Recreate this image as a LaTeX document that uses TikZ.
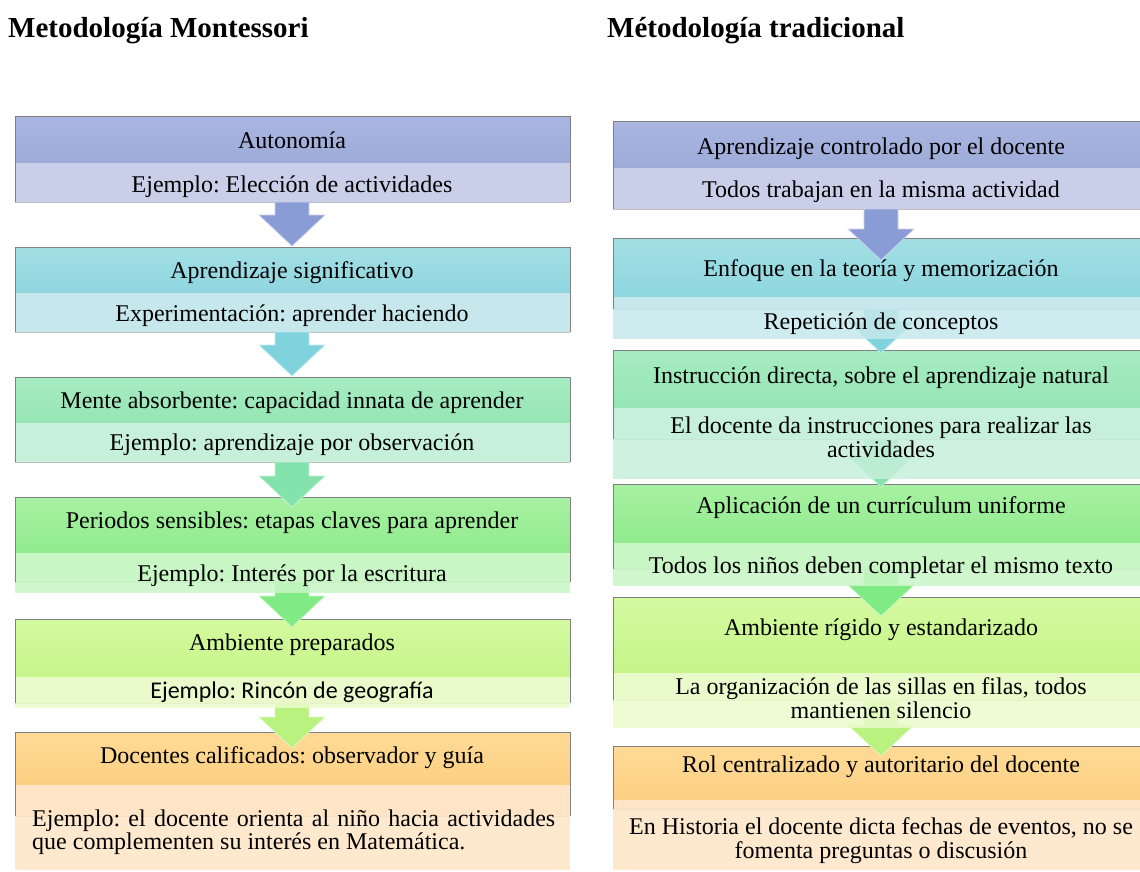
\documentclass[tikz,border=0pt]{standalone}
\usepackage{fontspec}
\setmainfont{Liberation Serif}
\newfontfamily\calibrifont{Carlito}
\frenchspacing
% stage colours: header top (hT), header bottom (hB), sub (s), arrow (a)
\definecolor{hTa}{HTML}{AAB6E1}\definecolor{hBa}{HTML}{9DABD8}\definecolor{sa}{HTML}{CACFE9}\definecolor{aa}{HTML}{8A9CD5}
\definecolor{hTb}{HTML}{A2DFE5}\definecolor{hBb}{HTML}{8FD6DF}\definecolor{sb}{HTML}{C6E8EC}\definecolor{ab}{HTML}{80D2DD}
\definecolor{hTc}{HTML}{A6ECC2}\definecolor{hBc}{HTML}{96E5B4}\definecolor{sc}{HTML}{C6F0D9}\definecolor{ac}{HTML}{84E2AC}
\definecolor{hTd}{HTML}{A6F1A2}\definecolor{hBd}{HTML}{92EB8E}\definecolor{sd}{HTML}{C9F6C5}\definecolor{ad}{HTML}{80EA84}
\definecolor{hTe}{HTML}{D4FA9F}\definecolor{hBe}{HTML}{C6F58A}\definecolor{se}{HTML}{EAFBCB}\definecolor{ae}{HTML}{B9F27F}
\definecolor{hTf}{HTML}{FFDA95}\definecolor{hBf}{HTML}{FDD083}\definecolor{sf}{HTML}{FFE5C6}\definecolor{af}{HTML}{FDD083}
\tikzset{
  txt/.style={font=\fontsize{24}{24}\selectfont, anchor=base, inner sep=0pt, align=center},
  ttl/.style={font=\fontsize{29}{30}\selectfont\bfseries, anchor=base west, inner sep=0pt},
  boxline/.style={draw=black!50, line width=0.8pt},
}
% x1 x2 ytop yhead yout colourkey
\newcommand\stagefill[6]{%
  \shade[top color=hT#6, bottom color=hB#6] (#1,#3) rectangle (#2,#4);
  \fill[s#6] (#1,#4) rectangle (#2,#5);
  \draw[black!25, line width=0.6pt] (#1,#5) -- (#2,#5);
  \draw[boxline] (#1,#3) -- (#2,#3);}
% x1 x2 yhead yband colourkey
\newcommand\stageband[5]{%
  \fill[s#5, opacity=0.85] (#1,#3) rectangle (#2,#4);}
% x1 x2 ytop yout
\newcommand\stagesides[4]{%
  \draw[boxline] (#1,#3) -- (#1,#4);
  \draw[boxline] (#2,#3) -- (#2,#4);}
% cx ytop ytip colour
\newcommand\blockarr[4]{%
  \filldraw[fill=#4, draw=white!55!#4, line width=0.7pt]
    (#1-17,#2) -- (#1+17,#2) -- (#1+17,#3-31) -- (#1+33,#3-31) -- (#1,#3)
    -- (#1-33,#3-31) -- (#1-17,#3-31) -- cycle;}
\begin{document}
\begin{tikzpicture}[x=1pt,y=-1pt]
\useasboundingbox (0,0) rectangle (1140,871);
\clip (0,0) rectangle (1140,871);
% ---------- titles
\node[ttl] (t1) at (8,37) {Metodología Montessori};
\node[ttl] (t2) at (607,37) {Métodología tradicional};
% ---------- left column fills
\stagefill{15}{570}{116}{163}{202}{a}
\stagefill{15}{570}{247}{293}{332}{b}
\stagefill{15}{570}{377}{423}{462}{c}
\stagefill{15}{570}{497}{553}{582}{d}
\stagefill{15}{570}{619}{677}{703}{e}
\stagefill{15}{570}{732}{785}{816}{f}
% ---------- right column fills
\stagefill{613}{1150}{121}{168}{209}{a}
\stagefill{613}{1150}{238}{297}{309}{b}
\stagefill{613}{1150}{350}{408}{439}{c}
\stagefill{613}{1150}{484}{543}{569}{d}
\stagefill{613}{1150}{597}{673}{700}{e}
\stagefill{613}{1150}{746}{800}{809}{f}
% ---------- arrows
\blockarr{292}{202}{246}{aa}
\blockarr{292}{332}{376}{ab}
\blockarr{292}{462}{507}{ac}
\blockarr{292}{582}{627}{ad}
\blockarr{292}{703}{748}{ae}
\blockarr{881}{209}{260}{aa}
\blockarr{881}{309}{353}{ab}
\blockarr{881}{439}{487}{ac}
\blockarr{881}{569}{616}{ad}
\blockarr{881}{700}{756}{ae}
% ---------- bands
\stageband{15}{570}{163}{202}{a}
\stageband{15}{570}{293}{332}{b}
\stageband{15}{570}{423}{462}{c}
\stageband{15}{570}{553}{593}{d}
\stageband{15}{570}{677}{708}{e}
\stageband{15}{570}{785}{870}{f}
\stageband{613}{1150}{168}{209}{a}
\stageband{613}{1150}{297}{339}{b}
\stageband{613}{1150}{408}{479}{c}
\stageband{613}{1150}{543}{586}{d}
\stageband{613}{1150}{673}{728}{e}
\stageband{613}{1150}{800}{870}{f}
% ---------- sides
\stagesides{15}{570}{116}{202}
\stagesides{15}{570}{247}{332}
\stagesides{15}{570}{377}{462}
\stagesides{15}{570}{497}{582}
\stagesides{15}{570}{619}{703}
\stagesides{15}{570}{732}{816}
\stagesides{613}{1150}{121}{209}
\stagesides{613}{1150}{238}{309}
\stagesides{613}{1150}{350}{439}
\stagesides{613}{1150}{484}{569}
\stagesides{613}{1150}{597}{700}
\stagesides{613}{1150}{746}{809}
% ---------- left texts
\node[txt] (l1h) at (292,148) {Autonomía};
\node[txt] (l1s) at (292,192) {Ejemplo: Elección de actividades};
\node[txt] (l2h) at (292,278) {Aprendizaje significativo};
\node[txt] (l2s) at (292,321) {Experimentación: aprender haciendo};
\node[txt] (l3h) at (292,408) {Mente absorbente: capacidad innata de aprender};
\node[txt] (l3s) at (292,450) {Ejemplo: aprendizaje por observación};
\node[txt] (l4h) at (292,528) {Periodos sensibles: etapas claves para aprender};
\node[txt] (l4s) at (292,581) {Ejemplo: Interés por la escritura};
\node[txt] (l5h) at (292,650) {Ambiente preparados};
\node[txt] (l5s) at (292,698) {\calibrifont Ejemplo: Rincón de geografía};
\node[txt] (l6h) at (292,763) {Docentes calificados: observador y guía};
\node[inner sep=0pt, anchor=north west, font=\fontsize{24}{24}\selectfont] (l6s) at (32,810)
  {\parbox{523pt}{\baselineskip=23pt Ejemplo: el docente orienta al niño hacia actividades\linebreak
   que complementen su interés en Matemática.}};
% ---------- right texts
\node[txt] (r1h) at (881,154) {Aprendizaje controlado por el docente};
\node[txt] (r1s) at (881,197) {Todos trabajan en la misma actividad};
\node[txt] (r2h) at (881,276) {Enfoque en la teoría y memorización};
\node[txt] (r2s) at (881,329) {Repetición de conceptos};
\node[txt] (r3h) at (881,383) {Instrucción directa, sobre el aprendizaje natural};
\node[txt, anchor=north] (r3s) at (881,417) {El docente da instrucciones para realizar las\\actividades};
\node[txt] (r4h) at (881,513) {Aplicación de un currículum uniforme};
\node[txt] (r4s) at (881,573) {Todos los niños deben completar el mismo texto};
\node[txt] (r5h) at (881,635) {Ambiente rígido y estandarizado};
\node[txt, anchor=north] (r5s) at (881,677) {La organización de las sillas en filas, todos\\mantienen silencio};
\node[txt] (r6h) at (881,772) {Rol centralizado y autoritario del docente};
\node[txt, anchor=north] (r6s) at (881,817) {En Historia el docente dicta fechas de eventos, no se\\fomenta preguntas o discusión};
\end{tikzpicture}
\end{document}
